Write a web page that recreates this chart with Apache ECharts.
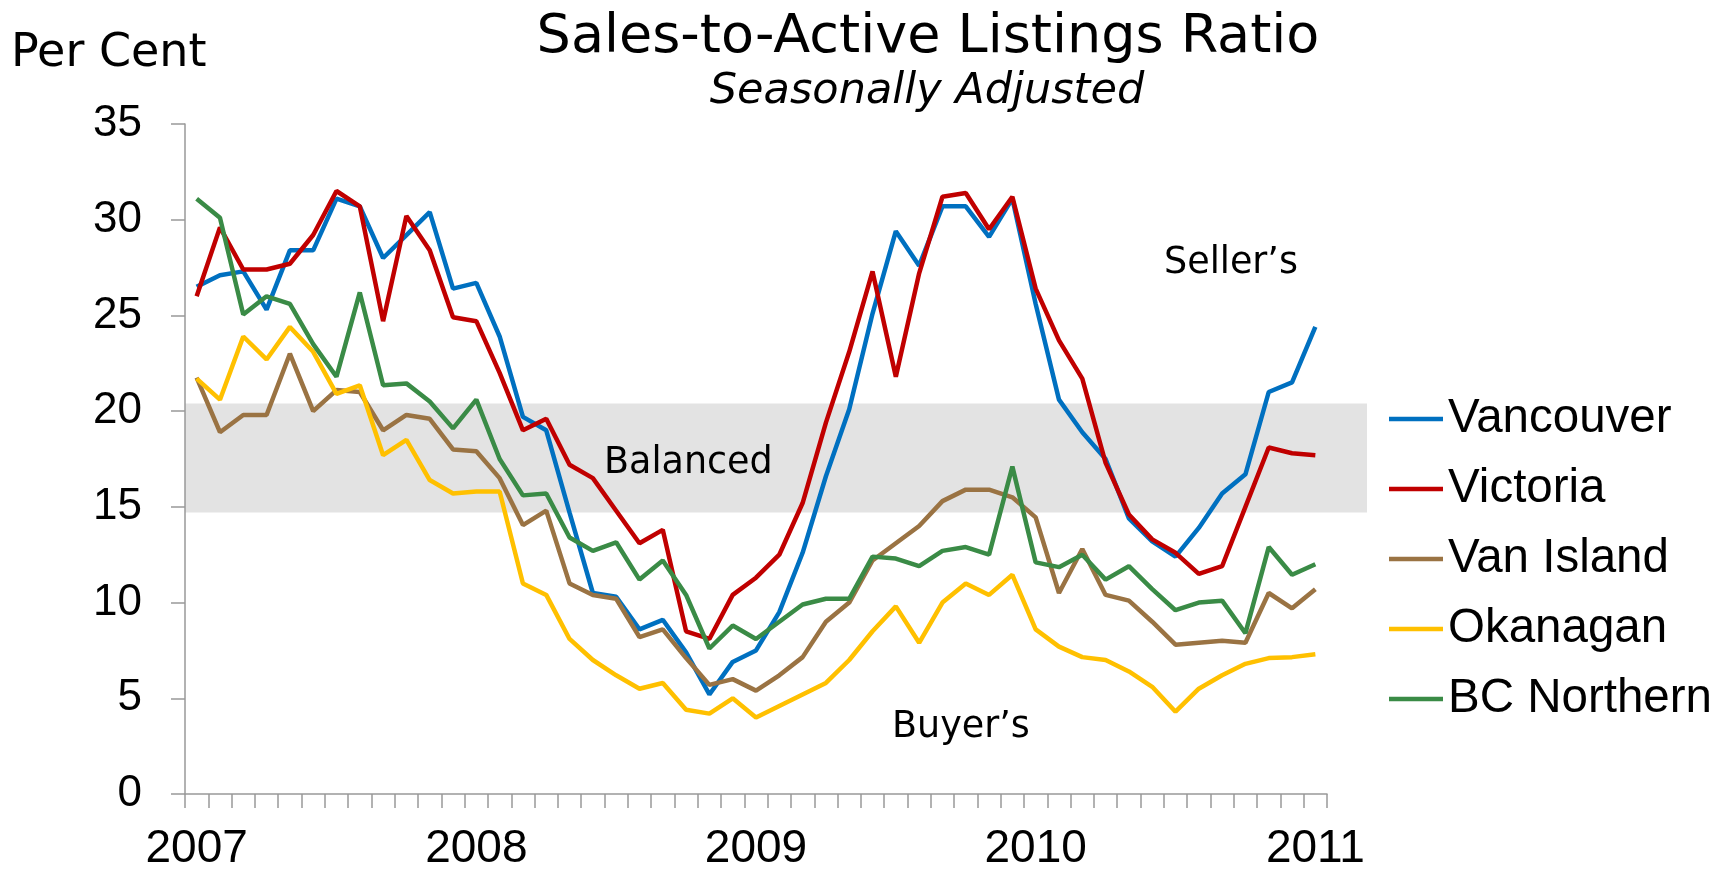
<!DOCTYPE html>
<html>
<head>
<meta charset="utf-8">
<title>Sales-to-Active Listings Ratio</title>
<script src="https://cdn.jsdelivr.net/npm/echarts@6/dist/echarts.min.js"></script>
<style>
    html, body { margin: 0; padding: 0; background: #fff; }
    #main { width: 1729px; height: 872px; }
</style>
</head>
<body>
<div id="main"></div>
<script>
// monthly categories, Jan 2007 .. Jan 2011
var years = ['2007', '2008', '2009', '2010'];
var categories = [];
for (var y = 0; y < years.length; y++) {
    for (var m = 1; m <= 12; m++) {
        categories.push(years[y] + '-' + (m < 10 ? '0' + m : m));
    }
}
categories.push('2011-01');

var seriesNames = ['Vancouver', 'Victoria', 'Van Island', 'Okanagan', 'BC Northern'];
var seriesColors = ['#0070C0', '#C00000', '#9A7343', '#FFC000', '#3A8B46'];

var vancouver = [26.5, 27.1, 27.3, 25.3, 28.4, 28.4, 31.1, 30.7, 28.0, 29.2,
    30.4, 26.4, 26.7, 23.9, 19.7, 19.0, 14.7, 10.5, 10.3, 8.6,
    9.1, 7.4, 5.2, 6.9, 7.5, 9.5, 12.6, 16.6, 20.1, 25.1,
    29.4, 27.6, 30.7, 30.7, 29.1, 31.1, 25.6, 20.6, 18.9, 17.5,
    14.4, 13.2, 12.4, 13.9, 15.7, 16.7, 21.0, 21.5, 24.4];
var victoria = [26.0, 29.6, 27.4, 27.4, 27.7, 29.2, 31.5, 30.7, 24.7, 30.2,
    28.4, 24.9, 24.7, 22.0, 19.0, 19.6, 17.2, 16.5, 14.8, 13.1,
    13.8, 8.5, 8.1, 10.4, 11.3, 12.5, 15.2, 19.4, 23.1, 27.3,
    21.8, 27.2, 31.2, 31.4, 29.5, 31.2, 26.4, 23.7, 21.7, 17.3,
    14.6, 13.3, 12.6, 11.5, 11.9, 15.0, 18.1, 17.8, 17.7];
var vanIsland = [21.75, 18.9, 19.8, 19.8, 23.0, 20.0, 21.1, 21.0, 19.0, 19.8,
    19.6, 18.0, 17.9, 16.5, 14.05, 14.8, 11.0, 10.4, 10.2, 8.2,
    8.6, 7.1, 5.7, 6.0, 5.4, 6.2, 7.15, 9.0, 10.0, 12.2,
    13.1, 14.0, 15.3, 15.9, 15.9, 15.5, 14.45, 10.5, 12.8, 10.4,
    10.1, 9.0, 7.8, 7.9, 8.0, 7.9, 10.5, 9.7, 10.7];
var okanagan = [21.7, 20.6, 23.9, 22.7, 24.4, 23.1, 20.9, 21.35, 17.7, 18.5,
    16.4, 15.7, 15.8, 15.8, 11.0, 10.4, 8.1, 7.0, 6.2, 5.5,
    5.8, 4.4, 4.2, 5.0, 4.0, 4.6, 5.2, 5.8, 7.0, 8.5,
    9.8, 7.9, 10.0, 11.0, 10.4, 11.45, 8.6, 7.7, 7.15, 7.0,
    6.4, 5.6, 4.3, 5.5, 6.2, 6.8, 7.1, 7.15, 7.3];
var bcNorthern = [31.1, 30.1, 25.05, 26.0, 25.6, 23.5, 21.8, 26.2, 21.35, 21.45,
    20.5, 19.1, 20.6, 17.5, 15.6, 15.7, 13.4, 12.7, 13.15, 11.2,
    12.2, 10.4, 7.6, 8.8, 8.1, 9.0, 9.9, 10.2, 10.2, 12.4,
    12.3, 11.9, 12.7, 12.9, 12.5, 17.1, 12.1, 11.85, 12.5, 11.2,
    11.9, 10.7, 9.6, 10.0, 10.1, 8.4, 12.9, 11.45, 12.0];

// the grey "Balanced" band, in per cent
var balancedBand = [14.7, 20.4];

var gridLeft = 185, gridRight = 402;

var myChart = echarts.init(document.getElementById('main'));

var allData = [vancouver, victoria, vanIsland, okanagan, bcNorthern];
var series = [];
for (var i = 0; i < seriesNames.length; i++) {
    series.push({
        name: seriesNames[i],
        type: 'line',
        data: allData[i],
        symbol: 'none',
        z: 3,
        lineStyle: { width: 4.5, color: seriesColors[i] },
        itemStyle: { color: seriesColors[i] }
    });
}

var option = {
    animation: false,
    grid: { left: gridLeft, right: gridRight, top: 124, bottom: 76 },
    legend: {
        orient: 'vertical',
        left: 1389,
        top: 395,
        padding: 0,
        icon: 'rect',
        itemWidth: 54,
        itemHeight: 4.5,
        itemGap: 22,
        textStyle: { fontFamily: 'Liberation Sans', fontSize: 47.5, lineHeight: 47, color: '#000' },
        data: seriesNames
    },
    xAxis: {
        type: 'category',
        data: categories,
        boundaryGap: true,
        axisLine: { lineStyle: { color: '#999', width: 1.5 } },
        axisTick: { show: true, interval: 0, length: 14, lineStyle: { color: '#999', width: 1.5 } },
        axisLabel: {
            interval: 11,
            margin: 32,
            fontFamily: 'Liberation Sans',
            fontSize: 46,
            color: '#000',
            formatter: function (v) { return v.slice(0, 4); }
        },
        splitLine: { show: false }
    },
    yAxis: {
        type: 'value',
        min: 0,
        max: 35,
        interval: 5,
        axisLine: { show: true, lineStyle: { color: '#999', width: 1.5 } },
        axisTick: { show: true, length: 14, lineStyle: { color: '#999', width: 1.5 } },
        axisLabel: { margin: 43, fontFamily: 'Liberation Sans', fontSize: 44, color: '#000' },
        splitLine: { show: false }
    },
    series: series
};
myChart.setOption(option);

// band and texts
var bandTop = myChart.convertToPixel({ yAxisIndex: 0 }, balancedBand[1]);
var bandBottom = myChart.convertToPixel({ yAxisIndex: 0 }, balancedBand[0]);
var plotRight = 1729 - gridRight;

myChart.setOption({
    graphic: [
        {
            type: 'rect', z: 0, silent: true,
            shape: { x: gridLeft, y: bandTop, width: plotRight + 40 - gridLeft, height: bandBottom - bandTop },
            style: { fill: '#E3E3E3' }
        },
        {
            type: 'text', z: 5, x: 928, y: 38,
            style: { text: 'Sales-to-Active Listings Ratio', fontFamily: 'DejaVu Sans', fontSize: 54, fill: '#000', textAlign: 'center', textVerticalAlign: 'middle' }
        },
        {
            type: 'text', z: 5, x: 927, y: 92,
            style: { text: 'Seasonally Adjusted', fontFamily: 'DejaVu Sans', fontStyle: 'italic', fontSize: 43, fill: '#000', textAlign: 'center', textVerticalAlign: 'middle' }
        },
        {
            type: 'text', z: 5, x: 11, y: 54,
            style: { text: 'Per Cent', fontFamily: 'DejaVu Sans', fontSize: 46, fill: '#000', textAlign: 'left', textVerticalAlign: 'middle' }
        },
        {
            type: 'text', z: 5, x: 604, y: 464,
            style: { text: 'Balanced', fontFamily: 'DejaVu Sans', fontSize: 36.5, fill: '#000', textAlign: 'left', textVerticalAlign: 'middle' }
        },
        {
            type: 'text', z: 5, x: 1164, y: 264,
            style: { text: 'Seller\u2019s', fontFamily: 'DejaVu Sans', fontSize: 36.5, fill: '#000', textAlign: 'left', textVerticalAlign: 'middle' }
        },
        {
            type: 'text', z: 5, x: 892, y: 728,
            style: { text: 'Buyer\u2019s', fontFamily: 'DejaVu Sans', fontSize: 36.5, fill: '#000', textAlign: 'left', textVerticalAlign: 'middle' }
        }
    ]
});
</script>
</body>
</html>
